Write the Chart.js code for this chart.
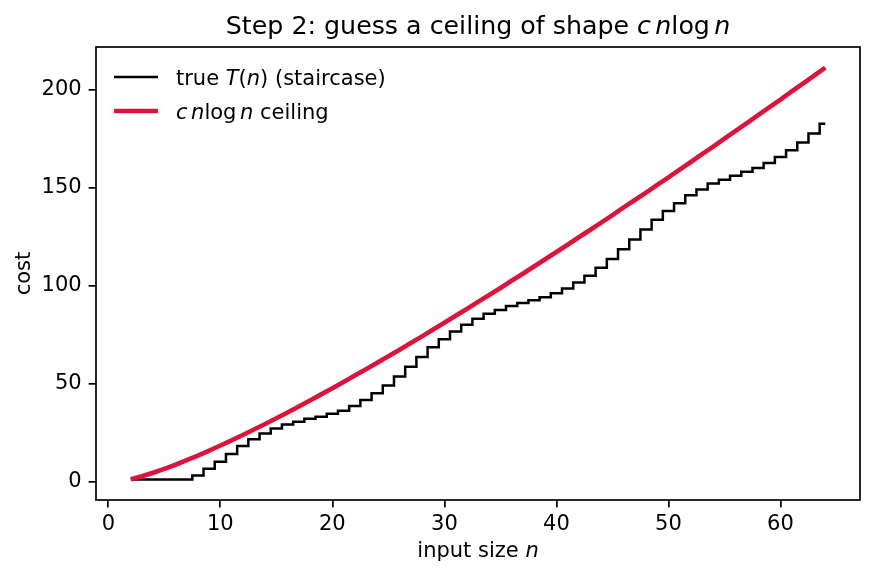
<!DOCTYPE html>
<html>
<head>
<meta charset="utf-8">
<script src="https://cdn.jsdelivr.net/npm/chart.js@4.4.1/dist/chart.umd.min.js"></script>
<style>
  html, body { margin: 0; padding: 0; background: #ffffff; }
  #c { display: block; }
</style>
</head>
<body>
<canvas id="c" width="869" height="579"></canvas>
<script>
// ---- data ----
const nValues = [2, 3, 4, 5, 6, 7, 8, 9, 10, 11, 12, 13, 14, 15, 16, 17, 18, 19, 20,
  21, 22, 23, 24, 25, 26, 27, 28, 29, 30, 31, 32, 33, 34, 35, 36, 37, 38, 39, 40,
  41, 42, 43, 44, 45, 46, 47, 48, 49, 50, 51, 52, 53, 54, 55, 56, 57, 58, 59, 60,
  61, 62, 63, 64];
const stairValues = [1, 1, 1, 1, 1, 1, 3, 6.5, 10, 14, 18, 21.5, 24.5, 27, 29, 30.5, 32, 33, 34.5,
  36, 38.5, 41.5, 45, 49, 53.5, 58.5, 63.5, 68.5, 72.5, 76.5, 80, 83, 85.5, 87.5, 89.5, 91, 92.5, 94, 96,
  98.5, 101.5, 105, 109, 113.5, 118.5, 123.5, 128.5, 133.5, 138, 142, 146, 149, 152, 154, 156, 158, 160, 162.5, 165.5,
  169, 173, 177.5, 182.5];
const ceilingValues = [1.1, 2.6, 4.4, 6.4, 8.5, 10.8, 13.2, 15.7, 18.3, 20.9, 23.7, 26.5, 29.3, 32.2, 35.2, 38.2, 41.3, 44.4, 47.5,
  50.7, 54.0, 57.2, 60.5, 63.9, 67.2, 70.6, 74.0, 77.5, 81.0, 84.5, 88.0, 91.6, 95.1, 98.7, 102.4, 106.0, 109.7, 113.4, 117.1,
  120.8, 124.6, 128.3, 132.1, 135.9, 139.8, 143.6, 147.4, 151.3, 155.2, 159.1, 163.0, 167.0, 170.9, 174.9, 178.9, 182.9, 186.9, 190.9, 194.9,
  199.0, 203.0, 207.1, 211.2];
const xTickValues = [0, 10, 20, 30, 40, 50, 60];
const yTickValues = [0, 50, 100, 150, 200];
const seriesLabels = ['true T(n) (staircase)', 'c n log n ceiling'];
const titleText = 'Step 2: guess a ceiling of shape c n log n';
const xTitleText = 'input size n';
const yTitleText = 'cost';

// ---- styling ----
const FONT = '"DejaVu Sans", "Liberation Sans", sans-serif';
const TICK_SIZE = 21;
const RED = '#DC143C';

function fontStr(size, italic) {
  return (italic ? 'italic ' : '') + size + 'px ' + FONT;
}
function drawRuns(ctx, runs, x, y, size, align) {
  let total = 0;
  const widths = runs.map(r => {
    if (r.sp) return r.sp * size;
    ctx.font = fontStr(size, r.it);
    return ctx.measureText(r.t).width;
  });
  widths.forEach(w => total += w);
  let cx = align === 'center' ? x - total / 2 : x;
  ctx.textAlign = 'left';
  runs.forEach((r, i) => {
    if (!r.sp) {
      ctx.font = fontStr(size, r.it);
      ctx.fillText(r.t, cx, y);
    }
    cx += widths[i];
  });
}

const titleRuns = [{t: 'Step 2: guess a ceiling of shape '}, {t: 'c', it: true}, {sp: 0.17},
  {t: 'n', it: true}, {t: 'log'}, {sp: 0.17}, {t: 'n', it: true}];
const xTitleRuns = [{t: 'input size '}, {t: 'n', it: true}];
const legendRuns = [
  [{t: 'true '}, {t: 'T', it: true}, {t: '('}, {t: 'n', it: true}, {t: ')'}, {t: ' (staircase)'}],
  [{t: 'c', it: true}, {sp: 0.17}, {t: 'n', it: true}, {t: 'log'}, {sp: 0.17}, {t: 'n', it: true}, {t: ' ceiling'}]
];

const decorPlugin = {
  id: 'decor',
  afterDraw(chart) {
    const ctx = chart.ctx;
    const a = chart.chartArea;
    ctx.save();
    // frame
    ctx.strokeStyle = '#000';
    ctx.lineWidth = 1.7;
    ctx.strokeRect(a.left, a.top, a.right - a.left, a.bottom - a.top);
    ctx.fillStyle = '#000';
    ctx.textBaseline = 'alphabetic';
    // title
    drawRuns(ctx, titleRuns, (a.left + a.right) / 2, 34, 25.3, 'center');
    // x title
    drawRuns(ctx, xTitleRuns, (a.left + a.right) / 2, 557, TICK_SIZE, 'center');
    // y title
    ctx.save();
    ctx.translate(30, (a.top + a.bottom) / 2);
    ctx.rotate(-Math.PI / 2);
    drawRuns(ctx, [{t: yTitleText}], 0, 0, TICK_SIZE, 'center');
    ctx.restore();
    // legend
    const ds = chart.data.datasets;
    const rows = [{y: 77, base: 85}, {y: 111, base: 119}];
    ds.forEach((d, i) => {
      ctx.strokeStyle = d.borderColor;
      ctx.lineWidth = d.borderWidth;
      ctx.beginPath();
      ctx.moveTo(114, rows[i].y);
      ctx.lineTo(158, rows[i].y);
      ctx.stroke();
      drawRuns(ctx, legendRuns[i], 176, rows[i].base, TICK_SIZE, 'left');
    });
    ctx.restore();
  }
};

const toPoints = (xs, ys) => xs.map((x, i) => ({x: x, y: ys[i]}));

new Chart(document.getElementById('c'), {
  type: 'line',
  data: {
    datasets: [
      {
        label: seriesLabels[0],
        data: toPoints(nValues, stairValues),
        borderColor: '#000000',
        borderWidth: 2.5,
        pointRadius: 0,
        stepped: 'middle',
        fill: false,
        order: 2
      },
      {
        label: seriesLabels[1],
        data: toPoints(nValues, ceilingValues),
        borderColor: RED,
        borderWidth: 4.6,
        pointRadius: 0,
        tension: 0,
        fill: false,
        borderCapStyle: 'butt',
        order: 1
      }
    ]
  },
  options: {
    responsive: false,
    animation: false,
    devicePixelRatio: 1,
    layout: { padding: { left: 0, right: 9, top: 47, bottom: 0 } },
    plugins: {
      legend: { display: false },
      title: { display: false, text: titleText },
      tooltip: { enabled: false }
    },
    scales: {
      x: {
        type: 'linear',
        min: -1.1,
        max: 67.1,
        afterBuildTicks(scale) { scale.ticks = xTickValues.map(v => ({value: v})); },
        afterFit(scale) { scale.height = 79; },
        grid: { drawOnChartArea: false, drawTicks: true, tickLength: 7.4, color: '#000', lineWidth: 1.7 },
        border: { display: false },
        ticks: { color: '#000', font: { family: FONT, size: TICK_SIZE }, padding: 5, maxRotation: 0, autoSkip: false },
        title: { display: false, text: xTitleText }
      },
      y: {
        type: 'linear',
        min: -9.5,
        max: 221.7,
        afterBuildTicks(scale) { scale.ticks = yTickValues.map(v => ({value: v})); },
        afterFit(scale) { scale.width = 96; },
        grid: { drawOnChartArea: false, drawTicks: true, tickLength: 7.4, color: '#000', lineWidth: 1.7 },
        border: { display: false },
        ticks: { color: '#000', font: { family: FONT, size: TICK_SIZE }, padding: 7, autoSkip: false },
        title: { display: false, text: yTitleText }
      }
    }
  },
  plugins: [decorPlugin]
});
</script>
</body>
</html>
